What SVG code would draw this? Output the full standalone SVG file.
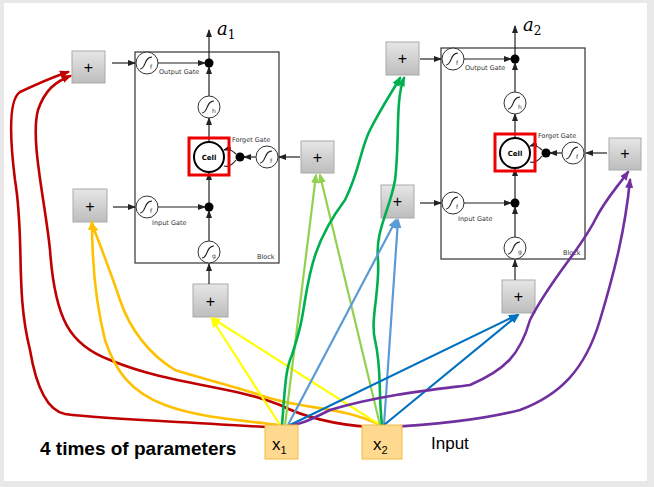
<svg xmlns="http://www.w3.org/2000/svg" width="654" height="487" viewBox="0 0 654 487">
<defs>
<style>
.t{font-family:"DejaVu Sans",sans-serif;fill:#333}
.g{fill:#fff;stroke:#333;stroke-width:1}
.k{stroke:#222;stroke-width:1.2;fill:none}
.pb{fill:url(#gr);stroke:#aaa;stroke-width:1}
.pl{font-family:"Liberation Sans",sans-serif;font-size:16px;fill:#000;text-anchor:middle}
.c{fill:none;stroke-width:2.6;stroke-linejoin:round;stroke-linecap:round}
.s{fill:none;stroke-width:2.2}
</style>
<linearGradient id="gr" x1="0" y1="0" x2="0" y2="1"><stop offset="0" stop-color="#e6e6e6"/><stop offset="1" stop-color="#bdbdbd"/></linearGradient>
<marker id="ak" markerWidth="8" markerHeight="8" refX="7" refY="4" orient="auto" markerUnits="userSpaceOnUse"><path d="M0,1 L8,4 L0,7z" fill="#222"/></marker>
<marker id="ar" markerWidth="10" markerHeight="10" refX="8" refY="5" orient="auto" markerUnits="userSpaceOnUse"><path d="M0,1 L10,5 L0,9z" fill="context-stroke"/></marker>
<g id="blk">
<rect x="135" y="52" width="144" height="211" fill="#fff" stroke="#333" stroke-width="1.2"/>
<line class="k" x1="209" y1="63" x2="209" y2="30" marker-end="url(#ak)"/>
<line class="k" x1="209" y1="96" x2="209" y2="67" marker-end="url(#ak)"/>
<line class="k" x1="209" y1="142" x2="209" y2="118" marker-end="url(#ak)"/>
<line class="k" x1="209" y1="207" x2="209" y2="173" marker-end="url(#ak)"/>
<line class="k" x1="209" y1="241" x2="209" y2="211" marker-end="url(#ak)"/>
<line class="k" x1="158" y1="63" x2="205" y2="63" marker-end="url(#ak)"/>
<line class="k" x1="158" y1="207" x2="205" y2="207" marker-end="url(#ak)"/>
<line class="k" x1="256" y1="157" x2="244" y2="157" marker-end="url(#ak)"/>
<path class="k" d="M236,154 Q230,148 224,150" marker-end="url(#ak)"/>
<path class="k" d="M236,160 Q230,168 224,166"/>
<circle cx="147" cy="63" r="11" class="g"/><circle cx="147" cy="207" r="11" class="g"/>
<circle cx="209" cy="107" r="11" class="g"/><circle cx="209" cy="252" r="11" class="g"/>
<circle cx="267" cy="157" r="11" class="g"/>
<g class="k" stroke-width="1"><path d="M140,69 C146,69 144,57 152,57"/><path d="M140,213 C146,213 144,201 152,201"/><path d="M202,113 C208,113 206,101 214,101"/><path d="M202,258 C208,258 206,246 214,246"/><path d="M260,163 C266,163 264,151 272,151"/></g>
<g font-family="DejaVu Sans,sans-serif" fill="#333" font-size="6"><text x="150" y="69">f</text><text x="150" y="213">f</text><text x="212" y="113">h</text><text x="212" y="258">g</text><text x="270" y="163">f</text></g>
<circle cx="209" cy="63" r="4.5" fill="#000"/><circle cx="209" cy="207" r="4.5" fill="#000"/><circle cx="240" cy="157" r="4.5" fill="#000"/>
<circle cx="209" cy="157" r="15" fill="#fff" stroke="#000" stroke-width="2"/>
<text x="209" y="160" font-family="DejaVu Sans,sans-serif" font-size="7" font-weight="bold" text-anchor="middle" fill="#000">Cell</text>
<rect x="189" y="138" width="40" height="37" fill="none" stroke="#e00" stroke-width="3"/>
<g font-family="DejaVu Sans,sans-serif" fill="#333" font-size="6.5"><text x="159" y="74">Output Gate</text><text x="152" y="225">Input Gate</text><text x="232" y="142">Forget Gate</text><text x="257" y="259">Block</text></g>
</g>
</defs>
<rect width="654" height="487" fill="#e8e8e8"/>
<rect x="4" y="3" width="643" height="478" fill="#fff"/>
<g id="block1"><use href="#blk"/><text x="217" y="35" font-family="DejaVu Serif,serif" font-style="italic" font-size="18">a<tspan font-size="12" font-style="normal" dy="4">1</tspan></text></g>
<g id="block2"><use href="#blk" transform="translate(306,-4)"/><text x="523" y="31" font-family="DejaVu Serif,serif" font-style="italic" font-size="18">a<tspan font-size="12" font-style="normal" dy="4">2</tspan></text></g>
<g id="plus-boxes">
<g id="p1o"><rect class="pb" x="72" y="51" width="33" height="32"/><text class="pl" x="88.5" y="73">+</text><line class="k" x1="112" y1="63" x2="135" y2="63" marker-end="url(#ak)"/></g>
<g id="p1i"><rect class="pb" x="73" y="189" width="34" height="33"/><text class="pl" x="90" y="212">+</text><line class="k" x1="113" y1="207" x2="135" y2="207" marker-end="url(#ak)"/></g>
<g id="p1f"><rect class="pb" x="301" y="141" width="33" height="32"/><text class="pl" x="317.5" y="163">+</text><line class="k" x1="300" y1="157" x2="279" y2="157" marker-end="url(#ak)"/></g>
<g id="p1g"><rect class="pb" x="193" y="284" width="35" height="33"/><text class="pl" x="210.5" y="307">+</text><line class="k" x1="209" y1="284" x2="209" y2="264" marker-end="url(#ak)"/></g>
<g id="p2o"><rect class="pb" x="386" y="42" width="33" height="33"/><text class="pl" x="402.5" y="64">+</text><line class="k" x1="420" y1="59" x2="441" y2="59" marker-end="url(#ak)"/></g>
<g id="p2i"><rect class="pb" x="381" y="185" width="33" height="33"/><text class="pl" x="397.5" y="207">+</text><line class="k" x1="420" y1="203" x2="441" y2="203" marker-end="url(#ak)"/></g>
<g id="p2f"><rect class="pb" x="609" y="138" width="32" height="32"/><text class="pl" x="625" y="159">+</text><line class="k" x1="607" y1="153" x2="586" y2="153" marker-end="url(#ak)"/></g>
<g id="p2g"><rect class="pb" x="502" y="280" width="33" height="33"/><text class="pl" x="518.5" y="302">+</text><line class="k" x1="515" y1="280" x2="515" y2="260" marker-end="url(#ak)"/></g>
</g>
<g id="connectors">
<path class="c" stroke="#c00000" d="M278,428 C200,422 110,420 65,414 C45,410 35,380 30,350 C15,290 25,240 15,180 C10,140 8,100 20,92 C35,85 50,78 68,72" marker-end="url(#ar)"/>
<path class="c" stroke="#c00000" d="M370,427 C340,425 310,420 280,405 C230,385 170,385 110,360 C70,345 55,320 50,250 C45,200 30,140 38,110 C45,90 55,82 70,76" marker-end="url(#ar)"/>
<path class="c" stroke="#ffc000" d="M278,425 C240,420 200,418 165,405 C130,392 115,370 105,340 C95,300 92,260 92,222" marker-end="url(#ar)"/>
<path class="c" stroke="#ffc000" d="M380,425 C340,405 300,410 260,395 C230,385 200,378 175,370 C150,355 130,330 120,300 C110,270 100,245 92,224" marker-end="url(#ar)"/>
<line class="s" stroke="#ffff00" x1="280" y1="425" x2="212" y2="319" marker-end="url(#ar)"/>
<line class="s" stroke="#ffff00" x1="380" y1="425" x2="212" y2="318" marker-end="url(#ar)"/>
<line class="s" stroke="#92d050" x1="285" y1="425" x2="316" y2="175" marker-end="url(#ar)"/>
<line class="s" stroke="#92d050" x1="380" y1="425" x2="320" y2="175" marker-end="url(#ar)"/>
<path class="c" stroke="#00b050" d="M282,425 C285,390 285,370 292,355 C300,330 302,320 305,300 C310,270 315,240 345,200 C360,170 360,150 370,130 C380,110 390,95 400,78" marker-end="url(#ar)"/>
<path class="c" stroke="#00b050" d="M382,425 C378,390 382,370 375,340 C370,320 380,290 378,260 C375,230 390,210 395,180 C400,140 395,100 404,78" marker-end="url(#ar)"/>
<line class="s" stroke="#5b9bd5" x1="288" y1="425" x2="396" y2="220" marker-end="url(#ar)"/>
<line class="s" stroke="#5b9bd5" x1="384" y1="425" x2="398" y2="220" marker-end="url(#ar)"/>
<line class="s" stroke="#0070c0" stroke-width="2.8" x1="290" y1="425" x2="517" y2="315" marker-end="url(#ar)"/>
<line class="s" stroke="#0070c0" stroke-width="2.8" x1="384" y1="425" x2="518" y2="315" marker-end="url(#ar)"/>
<path class="c" stroke="#7030a0" d="M283,427 C300,425 310,420 330,410 C380,395 430,390 470,385 C505,370 520,355 530,320 C550,280 580,250 595,220 C605,200 615,190 628,172" marker-end="url(#ar)"/>
<path class="c" stroke="#7030a0" d="M386,427 C430,425 480,420 520,410 C560,395 585,370 600,320 C615,270 625,230 630,180" marker-end="url(#ar)"/>
</g>
<g id="x1"><rect x="265" y="425" width="33" height="34" fill="#ffd98f" stroke="#f4b942"/><text x="272" y="450" font-family="Liberation Sans,sans-serif" font-size="17">x<tspan font-size="11" dy="4">1</tspan></text></g>
<g id="x2"><rect x="362" y="425" width="40" height="34" fill="#ffd98f" stroke="#f4b942"/><text x="373" y="450" font-family="Liberation Sans,sans-serif" font-size="17">x<tspan font-size="11" dy="4">2</tspan></text></g>
<text x="431" y="449" font-family="Liberation Sans,sans-serif" font-size="17">Input</text>
<text x="40" y="455" font-family="Liberation Sans,sans-serif" font-size="19" font-weight="bold">4 times of parameters</text>
</svg>
